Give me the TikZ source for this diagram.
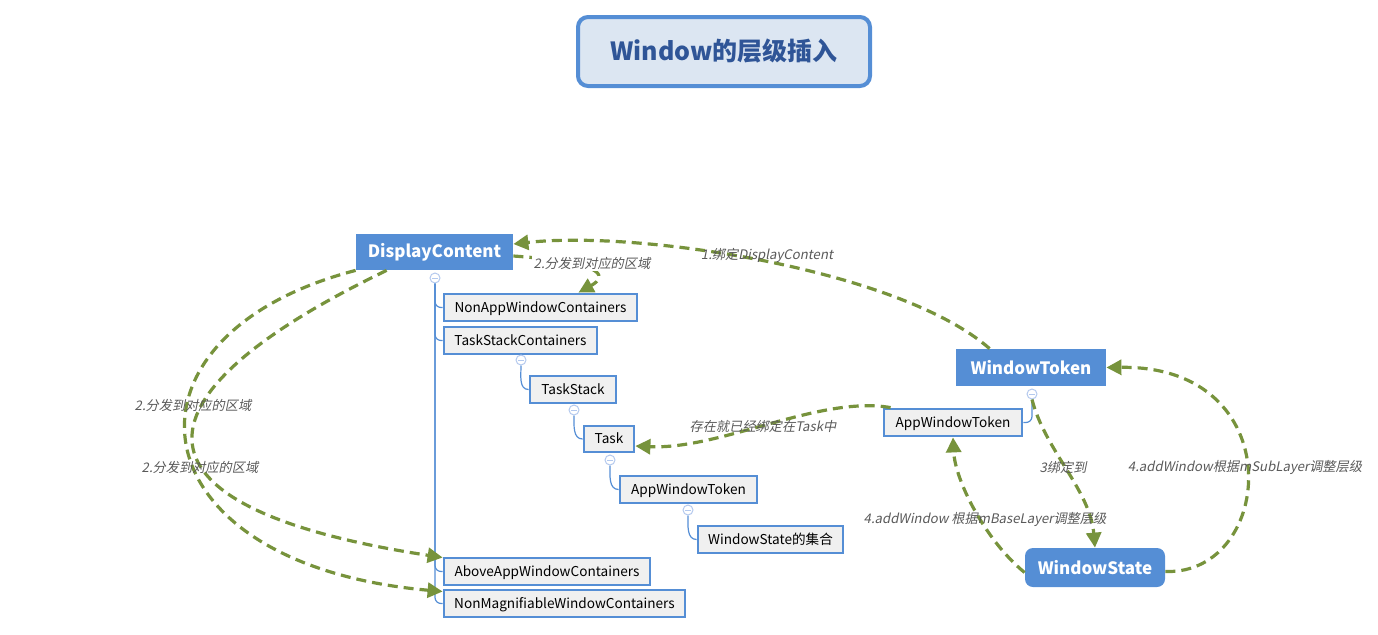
\documentclass[tikz,border=0pt]{standalone}
\usepackage{fontspec}
\setmainfont{Noto Sans CJK SC}
\newfontfamily\lblfont[FakeSlant=0.2]{Noto Sans CJK SC}
\usetikzlibrary{arrows.meta}
\definecolor{topicblue}{HTML}{558ED5}
\definecolor{titlefill}{HTML}{DCE6F2}
\definecolor{titletext}{HTML}{2F5597}
\definecolor{subgray}{HTML}{F0F0F0}
\definecolor{foldblue}{HTML}{B4C9EE}
\definecolor{relgreen}{HTML}{77933C}
\definecolor{lblgray}{HTML}{595959}

\begin{document}
\begin{tikzpicture}[x=0.5pt,y=-0.5pt,
  main/.style={fill=topicblue, text=white, font=\bfseries\fontsize{8.5}{10}\selectfont, inner sep=0pt},
  sub/.style={draw=topicblue, line width=1.4pt, fill=subgray, text=black, font=\fontsize{6.8}{8}\selectfont, minimum height=13.5pt, inner sep=0pt, text depth=0.6pt},
  fold/.style={circle, draw=foldblue, fill=white, line width=0.5pt, minimum size=5pt, inner sep=0pt,
    path picture={\draw[foldblue, line width=0.5pt] ([xshift=-1.3pt]path picture bounding box.center) -- ([xshift=1.3pt]path picture bounding box.center);}},
  tree/.style={draw=topicblue, line width=0.6pt, rounded corners=3pt},
  rel/.style={draw=relgreen, line width=1.6pt, dash pattern=on 5pt off 3pt, -{Triangle[length=7.5pt,width=7.5pt]}},
  lbl/.style={text=lblgray, font=\lblfont\fontsize{6.6}{8}\selectfont, inner sep=1pt}
]
\useasboundingbox (0,0) rectangle (1378,634);

%% title
\node[draw=topicblue, line width=2pt, fill=titlefill, rounded corners=5pt, minimum width=146pt, minimum height=34.5pt,
  text=titletext, font=\bfseries\fontsize{12.5}{14}\selectfont] (title) at (724,51.5) {Window的层级插入};

%% the tree under DisplayContent
\node[main, minimum width=78.5pt, minimum height=18pt] (dc) at (434.5,252) {DisplayContent};
\node[sub, minimum width=96.5pt] (nonapp) at (540.5,307.5) {NonAppWindowContainers};
\node[sub, minimum width=76.5pt] (tscont) at (520.5,340.5) {TaskStackContainers};
\node[sub, minimum width=43pt] (tstack) at (573,389.5) {TaskStack};
\node[sub, minimum width=25pt, minimum height=13pt] (task) at (609,439) {Task};
\node[sub, minimum width=68.5pt] (awtok) at (688.5,489.5) {AppWindowToken};
\node[sub, minimum width=72.5pt] (wsset) at (770.5,539.5) {WindowState的集合};
\node[sub, minimum width=103pt] (above) at (547,571.5) {AboveAppWindowContainers};
\node[sub, minimum width=120.5pt] (nonmag) at (564.5,603.5) {NonMagnifiableWindowContainers};

\node[fold] (f0) at (435,278) {};
\node[fold] (f1) at (521,360) {};
\node[fold] (f2) at (574,410) {};
\node[fold] (f3) at (610,460) {};
\node[fold] (f4) at (688,510) {};

\draw[tree] (f0.south) |- (nonapp.west);
\draw[tree] (f0.south) |- (tscont.west);
\draw[tree] (f0.south) |- (above.west);
\draw[tree] (f0.south) |- (nonmag.west);
\draw[tree] (f1.south) to[out=-90, in=180] (tstack.west);
\draw[tree] (f2.south) to[out=-90, in=180] (task.west);
\draw[tree] (f3.south) to[out=-90, in=180] (awtok.west);
\draw[tree] (f4.south) to[out=-90, in=180] (wsset.west);

%% the window side
\node[main, minimum width=75pt, minimum height=18.5pt] (wtok) at (1031,367.5) {WindowToken};
\node[sub, minimum width=69pt] (awtok2) at (953,422.5) {AppWindowToken};
\node[main, rounded corners=4pt, minimum width=70pt, minimum height=19.5pt] (wstate) at (1095,567.5) {WindowState};
\node[fold] (f5) at (1032,394) {};
\draw[tree] (f5.south) |- (awtok2.east);

%% relations
\draw[rel] ([xshift=17pt]wtok.north west) .. controls (900,270) and (640,230) .. ([yshift=4pt]dc.east);
\draw[rel] ([yshift=-2pt]dc.east) .. controls (600,262) and (610,275) .. ([xshift=19pt]nonapp.north);
\draw[rel] (dc.south west) .. controls (104,336) and (131,564) .. ([yshift=6pt]nonmag.west);
\draw[rel] ([xshift=15.5pt]dc.south west) .. controls (118,400) and (123,509) .. ([yshift=7pt]above.west);
\draw[rel] ([xshift=4pt]awtok2.north west) .. controls (820,395) and (720,450) .. ([yshift=-3.5pt]task.east);
\draw[rel] (f5.south) .. controls (1045,450) and (1090,490) .. (wstate.north);
\draw[rel] ([yshift=-2.5pt]wstate.west) .. controls (985,540) and (955,480) .. (awtok2.south);
\draw[rel] ([yshift=-2pt]wstate.east) .. controls (1275,575) and (1292,365) .. (wtok.east);

\node[lbl] (l1) at (767,255) {1.绑定DisplayContent};
\node[lbl, fill=white] (l2) at (592,263) {2.分发到对应的区域};
\node[lbl] (l3) at (193,405) {2.分发到对应的区域};
\node[lbl] (l4) at (200,467) {2.分发到对应的区域};
\node[lbl] (l5) at (763,426) {存在就已经绑定在Task中};
\node[lbl] (l6) at (1063,467) {3绑定到};
\node[lbl] (l7) at (985,519) {4.addWindow 根据mBaseLayer调整层级};
\node[lbl] (l8) at (1245,467) {4.addWindow根据mSubLayer调整层级};
\end{tikzpicture}
\end{document}
